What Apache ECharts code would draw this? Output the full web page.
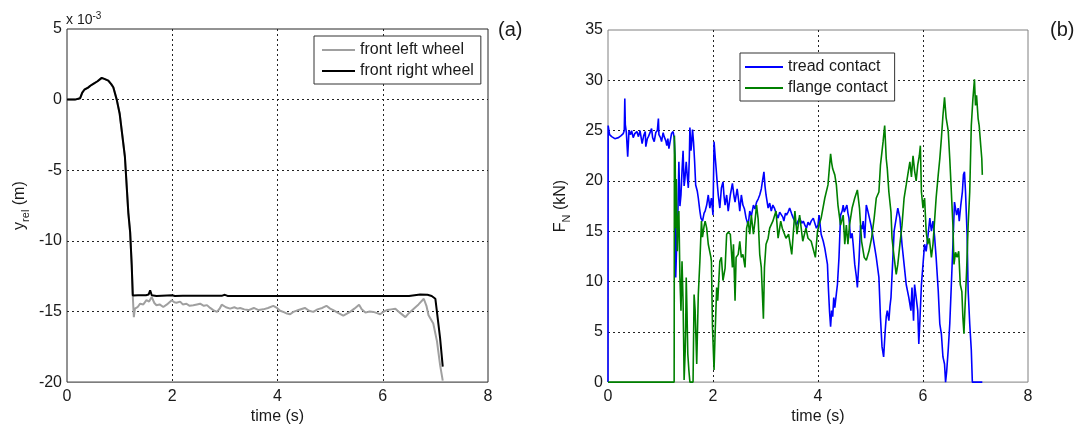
<!DOCTYPE html>
<html>
<head>
<meta charset="utf-8">
<script src="https://cdn.jsdelivr.net/npm/echarts@6/dist/echarts.min.js"></script>
<style>
html,body{margin:0;padding:0;background:#fff;}
#c{width:1084px;height:430px;}
</style>
</head>
<body>
<div id="c"></div>
<script>
// ---------- panel (a): y_rel (x 10^-3 m) vs time (s) ----------
const xTicksA = [0, 2, 4, 6, 8];
const yTicksA = [-20, -15, -10, -5, 0, 5];
const leftWheelT = [0,0.15,0.25,0.29,0.33,0.40,0.45,0.50,0.58,0.66,0.72,0.785,0.84,0.88,0.945,1.0,1.05,1.10,1.165,1.20,1.23,1.25,1.27,1.29,1.34,1.39,1.45,1.51,1.56,1.61,1.66,1.70,1.76,1.83,1.90,1.99,2.04,2.08,2.15,2.20,2.27,2.33,2.40,2.47,2.53,2.60,2.66,2.72,2.78,2.85,2.90,2.94,3.02,3.10,3.18,3.24,3.29,3.37,3.45,3.55,3.64,3.73,3.82,3.92,3.99,4.05,4.12,4.18,4.24,4.30,4.40,4.52,4.60,4.68,4.76,4.85,4.93,5.00,5.06,5.15,5.25,5.32,5.38,5.46,5.55,5.60,5.67,5.75,5.82,5.88,5.95,6.02,6.08,6.16,6.24,6.33,6.43,6.50,6.59,6.68,6.78,6.83,6.87,6.96,7.03,7.09,7.14];
const leftWheelY = [0,0,0.1,0.5,0.7,0.85,1.0,1.12,1.3,1.54,1.45,1.35,1.1,0.88,0,-0.98,-2.5,-4.03,-8.0,-9.4,-11.75,-13.9,-15.4,-14.8,-14.7,-14.45,-14.5,-14.2,-14.3,-13.98,-14.4,-14.56,-14.5,-14.68,-14.5,-14.2,-14.35,-14.38,-14.3,-14.5,-14.45,-14.6,-14.56,-14.5,-14.45,-14.6,-14.55,-14.75,-14.9,-15.03,-14.8,-14.52,-14.7,-14.8,-14.7,-14.8,-14.75,-14.85,-14.9,-14.75,-14.9,-14.85,-14.75,-14.6,-14.75,-14.95,-15.05,-15.15,-15.2,-15.03,-14.9,-14.75,-14.95,-15.03,-14.85,-14.75,-14.6,-14.8,-14.9,-15.1,-15.3,-15.15,-15.03,-14.8,-14.52,-14.85,-15.08,-15.0,-15.03,-15.1,-15.2,-15.0,-14.9,-14.85,-14.8,-15.1,-15.4,-15.1,-14.8,-14.5,-14.1,-14.6,-15.27,-15.85,-17.1,-18.8,-19.9];
const rightWheelT = [0,0.15,0.25,0.29,0.33,0.40,0.45,0.50,0.58,0.66,0.72,0.785,0.84,0.88,0.945,1.0,1.05,1.10,1.165,1.20,1.23,1.25,1.35,1.50,1.55,1.58,1.61,1.70,2.0,2.05,2.2,2.95,3.0,3.05,4.0,6.5,6.52,6.71,6.85,6.93,7.0,7.03,7.09,7.14];
const rightWheelY = [0,0,0.1,0.5,0.7,0.85,1.0,1.12,1.3,1.54,1.45,1.35,1.1,0.88,0,-0.98,-2.5,-4.03,-8.0,-9.4,-11.75,-13.86,-13.85,-13.85,-13.8,-13.5,-13.85,-13.9,-13.85,-13.9,-13.88,-13.88,-13.82,-13.9,-13.9,-13.9,-13.85,-13.8,-13.82,-13.9,-14.1,-15.03,-16.9,-18.9];

// ---------- panel (b): F_N (kN) vs time (s) ----------
const xTicksB = [0, 2, 4, 6, 8];
const yTicksB = [0, 5, 10, 15, 20, 25, 30, 35];
const treadT = [0,0.003,0.03,0.07,0.13,0.2,0.25,0.29,0.31,0.32,0.33,0.35,0.375,0.40,0.43,0.45,0.48,0.51,0.55,0.58,0.61,0.65,0.68,0.71,0.72,0.75,0.77,0.80,0.83,0.85,0.88,0.91,0.94,0.96,0.97,1.0,1.02,1.05,1.07,1.10,1.12,1.14,1.16,1.19,1.21,1.24,1.26,1.275,1.29,1.31,1.33,1.35,1.37,1.39,1.41,1.43,1.45,1.465,1.49,1.51,1.53,1.55,1.56,1.58,1.59,1.61,1.63,1.65,1.67,1.70,1.72,1.75,1.77,1.80,1.83,1.85,1.88,1.91,1.94,1.97,2.00,2.02,2.04,2.06,2.08,2.10,2.13,2.16,2.19,2.21,2.23,2.26,2.29,2.31,2.33,2.37,2.40,2.42,2.46,2.49,2.51,2.54,2.57,2.60,2.63,2.67,2.70,2.73,2.77,2.80,2.83,2.86,2.89,2.92,2.94,2.97,2.99,3.01,3.05,3.08,3.11,3.14,3.17,3.20,3.24,3.27,3.30,3.33,3.35,3.38,3.40,3.43,3.46,3.50,3.53,3.56,3.59,3.62,3.65,3.69,3.72,3.75,3.78,3.81,3.84,3.87,3.91,3.94,3.97,4.00,4.02,4.06,4.10,4.13,4.18,4.20,4.22,4.24,4.26,4.28,4.30,4.32,4.35,4.37,4.40,4.43,4.46,4.48,4.50,4.52,4.55,4.57,4.59,4.62,4.65,4.67,4.70,4.73,4.75,4.78,4.81,4.84,4.86,4.89,4.92,4.95,4.98,5.01,5.03,5.07,5.11,5.16,5.19,5.22,5.25,5.28,5.30,5.32,5.35,5.37,5.39,5.42,5.45,5.49,5.52,5.56,5.60,5.64,5.68,5.73,5.77,5.79,5.82,5.84,5.87,5.90,5.92,5.94,5.97,6.00,6.03,6.06,6.09,6.13,6.16,6.19,6.22,6.25,6.29,6.32,6.35,6.38,6.41,6.43,6.45,6.48,6.51,6.54,6.57,6.60,6.64,6.67,6.69,6.72,6.75,6.77,6.79,6.81,6.84,6.86,6.89,6.92,6.94,7.13];
const treadF = [0,25.5,24.6,24.4,24.2,24.3,24.5,24.7,25.0,28.2,25.6,24.8,22.4,25.0,24.6,25.0,24.3,24.7,24.9,24.4,25.0,23.7,24.5,24.9,23.4,24.2,24.4,24.8,25.2,24.3,23.9,24.8,25.0,26.2,24.6,24.3,23.9,24.8,24.4,24.0,23.5,24.2,23.2,24.1,24.7,24.9,24.3,22.2,10.4,14.0,16.3,21.9,17.5,18.6,21.0,23.0,19.5,20.2,21.9,20.5,19.3,22.5,25.3,23.0,23.5,25.1,23.8,21.9,19.6,19.0,18.3,17.0,16.3,16.0,16.8,17.0,17.6,18.6,17.3,18.3,16.6,23.9,22.5,21.2,19.8,18.6,17.3,19.3,19.9,18.5,17.6,18.6,17.0,17.8,18.6,19.75,18.5,17.9,19.2,18.0,17.0,18.6,17.6,17.2,16.3,15.6,17.0,16.5,17.6,17.2,17.9,18.2,18.6,19.2,19.9,20.9,19.5,18.6,17.3,17.8,17.0,17.6,17.3,16.8,16.3,16.9,17.0,16.4,16.0,16.8,16.6,16.9,17.3,16.7,16.3,16.0,15.6,16.0,16.3,15.8,16.0,15.6,15.3,15.9,15.6,16.0,16.3,15.8,15.3,15.6,16.6,14.7,14.0,13.3,11.7,9.1,7.0,5.5,7.1,6.5,8.4,7.4,8.8,9.7,12.4,16.6,17.0,17.6,16.9,17.0,17.6,16.8,16.3,14.3,14.8,13.7,11.7,10.5,9.4,12.0,15.6,15.2,16.0,14.3,17.6,17.0,16.3,15.6,15.0,13.7,12.4,10.4,6.4,3.5,2.5,5.1,6.5,7.1,6.1,7.5,8.4,11.7,15.0,16.3,17.3,16.3,13.7,11.7,9.7,8.4,7.1,9.4,6.1,9.7,8.4,7.1,3.8,6.0,9.7,11.7,13.7,13.0,14.3,16.3,15.0,16.0,14.5,12.4,9.1,5.8,4.8,2.5,1.8,0,1.0,3.2,5.8,9.7,13.7,17.9,16.6,17.3,16.0,17.6,18.9,20.6,20.9,18.9,14.7,9.1,5.8,3.2,0,0];
const flangeT = [0,1.26,1.265,1.28,1.29,1.30,1.32,1.335,1.35,1.37,1.39,1.41,1.43,1.44,1.45,1.47,1.48,1.49,1.505,1.52,1.54,1.56,1.62,1.64,1.66,1.69,1.72,1.75,1.78,1.80,1.83,1.85,1.88,1.91,1.94,1.96,1.97,1.99,2.02,2.04,2.07,2.09,2.13,2.16,2.19,2.23,2.26,2.29,2.33,2.37,2.39,2.42,2.44,2.48,2.51,2.54,2.57,2.61,2.64,2.67,2.70,2.73,2.77,2.80,2.83,2.86,2.89,2.92,2.96,2.98,3.01,3.05,3.08,3.14,3.20,3.24,3.29,3.32,3.39,3.44,3.50,3.56,3.60,3.65,3.71,3.77,3.81,3.87,3.92,3.95,3.99,4.03,4.06,4.13,4.19,4.22,4.24,4.26,4.28,4.32,4.35,4.38,4.43,4.48,4.51,4.54,4.57,4.60,4.65,4.70,4.75,4.79,4.83,4.88,4.92,4.97,5.02,5.07,5.11,5.16,5.19,5.24,5.27,5.30,5.32,5.35,5.39,5.41,5.45,5.49,5.52,5.56,5.60,5.64,5.68,5.71,5.75,5.78,5.81,5.84,5.87,5.90,5.93,5.95,5.97,6.00,6.03,6.06,6.09,6.12,6.16,6.19,6.22,6.25,6.29,6.32,6.35,6.38,6.41,6.44,6.48,6.51,6.54,6.57,6.59,6.62,6.65,6.68,6.71,6.74,6.76,6.78,6.80,6.83,6.86,6.89,6.92,6.95,6.98,7.00,7.02,7.05,7.07,7.10,7.12,7.13];
const flangeF = [0,0,24.5,22.0,15.3,20.2,13.0,16.0,17.0,10.4,7.1,12.0,8.0,4.5,0.2,3.0,5.5,10.4,7.0,2.8,1.2,0,0,8.7,7.1,1.8,8.7,12.0,16.0,14.4,15.5,16.0,15.3,13.7,13.8,12.4,12.0,5.5,1.2,4.8,9.4,8.1,12.0,12.4,10.1,11.3,14.7,14.9,14.7,11.4,13.7,8.1,12.4,12.7,14.0,12.4,12.7,11.4,15.3,16.0,14.7,16.6,14.7,16.0,17.6,16.2,12.7,11.4,6.3,11.4,13.7,14.3,15.3,16.0,17.0,14.3,16.0,15.3,14.3,14.7,12.7,17.0,14.7,16.6,14.0,15.3,14.3,14.0,13.0,12.4,15.0,15.8,16.3,18.3,19.6,21.5,22.7,21.8,21.2,20.6,19.6,17.6,15.6,16.6,13.7,15.6,13.7,15.6,17.3,18.3,19.1,17.3,14.0,12.4,12.1,13.0,14.3,16.3,18.3,18.9,21.6,23.9,25.5,22.2,21.2,18.9,16.9,14.3,12.4,10.7,11.7,13.7,15.6,18.3,19.6,20.6,21.9,20.4,22.5,21.0,20.0,21.6,22.5,23.5,18.9,17.3,18.3,15.0,13.7,14.3,12.4,13.7,16.0,18.3,20.6,22.2,24.2,26.5,28.3,26.3,25.0,22.2,18.9,15.6,11.7,12.9,12.4,13.0,9.7,9.0,6.4,4.8,7.4,11.0,15.6,18.9,25.5,28.1,30.1,27.5,28.5,26.2,25.5,23.5,22.2,20.6];

const zip = (a, b) => a.map((v, i) => [v, b[i]]);
const FONT = 'Liberation Sans, Arial, sans-serif';
const TXT = '#1a1a1a';

function xAxisCfg(grid, ticks) {
  return {
    type: 'value', gridIndex: grid, min: ticks[0], max: ticks[ticks.length - 1],
    interval: ticks[1] - ticks[0],
    axisLine: { show: false }, axisTick: { show: false },
    axisLabel: { fontSize: 16, color: TXT, fontFamily: FONT, margin: 6 },
    splitLine: { show: true, showMinLine: false, showMaxLine: false, lineStyle: { color: '#222', type: [2, 3], width: 1 } },
    name: 'time (s)', nameLocation: 'middle', nameGap: 26,
    nameTextStyle: { fontSize: 16, color: TXT, fontFamily: FONT }
  };
}
function yAxisCfg(grid, ticks, name, rich) {
  return {
    type: 'value', gridIndex: grid, min: ticks[0], max: ticks[ticks.length - 1],
    interval: ticks[1] - ticks[0],
    axisLine: { show: false }, axisTick: { show: false },
    axisLabel: { fontSize: 16, color: TXT, fontFamily: FONT, margin: 5 },
    splitLine: { show: true, showMinLine: false, showMaxLine: false, lineStyle: { color: '#222', type: [2, 3], width: 1 } },
    name: name, nameLocation: 'middle', nameGap: 36,
    nameTextStyle: { color: TXT, fontFamily: FONT, rich: rich }
  };
}
const richName = {
  a: { fontSize: 16, color: TXT, fontFamily: FONT, height: 22, verticalAlign: 'top' },
  s: { fontSize: 11, color: TXT, fontFamily: FONT, verticalAlign: 'bottom' }
};

const chart = echarts.init(document.getElementById('c'), null, { renderer: 'canvas' });
chart.setOption({
  animation: false,
  backgroundColor: '#fff',
  grid: [
    { left: 67, top: 29, width: 421, height: 356, show: true, borderColor: '#262626', borderWidth: 1, backgroundColor: 'transparent' },
    { left: 608, top: 30, width: 420, height: 355, show: true, borderColor: '#808080', borderWidth: 1, backgroundColor: 'transparent' }
  ],
  xAxis: [xAxisCfg(0, xTicksA), xAxisCfg(1, xTicksB)],
  yAxis: [
    yAxisCfg(0, yTicksA, '{a|y}{s|rel}{a| (m)}', richName),
    yAxisCfg(1, yTicksB, '{a|F}{s|N}{a| (kN)}', richName)
  ],
  legend: [
    {
      data: ['front left wheel', 'front right wheel'], orient: 'vertical', left: 314, top: 36,
      icon: 'rect', itemWidth: 33, itemHeight: 2, itemGap: 5, padding: [6, 7, 5, 8], selectedMode: false,
      borderColor: '#333', borderWidth: 1, backgroundColor: '#fff',
      textStyle: { fontSize: 16, color: TXT, fontFamily: FONT }
    },
    {
      data: ['tread contact', 'flange contact'], orient: 'vertical', left: 740, top: 53,
      icon: 'rect', itemWidth: 38, itemHeight: 2, itemGap: 5, padding: [6, 7, 5, 5], selectedMode: false,
      borderColor: '#333', borderWidth: 1, backgroundColor: '#fff',
      textStyle: { fontSize: 16, color: TXT, fontFamily: FONT }
    }
  ],
  graphic: [
    { type: 'text', left: 66, top: 11, style: { text: '{m|x 10}{p|-3}', rich: { m: { fontSize: 14, fill: TXT, fontFamily: FONT, height: 19, verticalAlign: 'bottom' }, p: { fontSize: 10, fill: TXT, fontFamily: FONT, verticalAlign: 'top' } } } },
    { type: 'text', left: 498, top: 20, style: { text: '(a)', fontSize: 20, fill: TXT, fontFamily: FONT } },
    { type: 'text', left: 1050, top: 20, style: { text: '(b)', fontSize: 20, fill: TXT, fontFamily: FONT } }
  ],
  series: [
    { name: 'front left wheel', type: 'line', xAxisIndex: 0, yAxisIndex: 0, data: zip(leftWheelT, leftWheelY), symbol: 'none', lineStyle: { color: '#a0a0a0', width: 2 }, itemStyle: { color: '#a0a0a0' } },
    { name: 'front right wheel', type: 'line', xAxisIndex: 0, yAxisIndex: 0, data: zip(rightWheelT, rightWheelY), symbol: 'none', lineStyle: { color: '#000', width: 2 }, itemStyle: { color: '#000' } },
    { name: 'tread contact', type: 'line', xAxisIndex: 1, yAxisIndex: 1, data: zip(treadT, treadF), symbol: 'none', lineStyle: { color: '#0000ff', width: 1.6 }, itemStyle: { color: '#0000ff' } },
    { name: 'flange contact', type: 'line', xAxisIndex: 1, yAxisIndex: 1, data: zip(flangeT, flangeF), symbol: 'none', lineStyle: { color: '#008000', width: 1.6 }, itemStyle: { color: '#008000' } }
  ]
});
</script>
</body>
</html>
